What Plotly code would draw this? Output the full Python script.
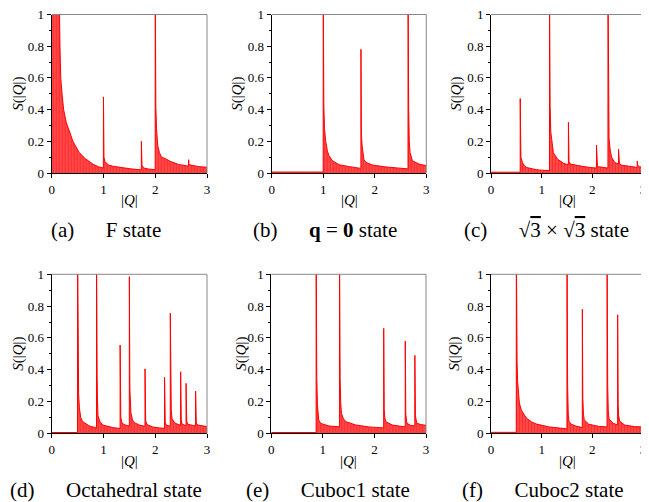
import plotly.graph_objects as go

FONT = "Liberation Serif"

# ---------------- data ----------------
# (a) F state
q_a = [0.0, 0.15, 0.16, 0.175, 0.2, 0.23, 0.28, 0.34, 0.41, 0.53, 0.65, 0.8, 0.9, 0.998,
       1.0, 1.004, 1.01, 1.03, 1.06, 1.1, 1.19, 1.35, 1.51, 1.65, 1.731,
       1.732, 1.736, 1.745, 1.79, 1.87, 1.999,
       2.0, 2.002, 2.006, 2.012, 2.025, 2.05, 2.08, 2.12, 2.2, 2.3, 2.45, 2.6, 2.644,
       2.645, 2.65, 2.68, 2.75, 2.85, 3.0]
s_a = [1.5, 1.05, 0.8, 0.6, 0.5, 0.4, 0.32, 0.26, 0.2, 0.13, 0.09, 0.055, 0.04, 0.031,
       0.48, 0.2, 0.1, 0.07, 0.059, 0.05, 0.042, 0.033, 0.027, 0.022, 0.02,
       0.2, 0.08, 0.045, 0.031, 0.025, 0.021,
       1.2, 1.0, 0.6, 0.42, 0.28, 0.17, 0.13, 0.1, 0.09, 0.072, 0.054, 0.045, 0.043,
       0.084, 0.06, 0.05, 0.044, 0.04, 0.036]

# (b) q = 0 state
q_b = [0.0, 0.999,
       1.0, 1.002, 1.005, 1.012, 1.025, 1.048, 1.08, 1.11, 1.18, 1.31, 1.51, 1.731,
       1.732, 1.735, 1.74, 1.755, 1.77, 1.79, 1.83, 1.96, 2.22, 2.45, 2.645,
       2.646, 2.648, 2.651, 2.658, 2.67, 2.684, 2.73, 2.86, 3.0]
s_b = [0.006, 0.006,
       1.2, 1.0, 0.62, 0.42, 0.28, 0.2, 0.14, 0.11, 0.077, 0.052, 0.04, 0.029,
       0.78, 0.4, 0.25, 0.17, 0.12, 0.085, 0.067, 0.05, 0.038, 0.031, 0.026,
       1.2, 1.0, 0.6, 0.4, 0.2, 0.13, 0.077, 0.056, 0.046]

# (c) sqrt3 x sqrt3 state
q_c = [0.0, 0.576,
       0.577, 0.581, 0.59, 0.62, 0.66, 0.7, 0.8, 0.89, 1.0, 1.154,
       1.155, 1.157, 1.16, 1.167, 1.18, 1.2, 1.23, 1.31, 1.44, 1.527,
       1.528, 1.532, 1.54, 1.57, 1.7, 1.8, 1.95, 2.081,
       2.082, 2.086, 2.1, 2.12, 2.2, 2.308,
       2.309, 2.311, 2.314, 2.32, 2.33, 2.35, 2.38, 2.44, 2.516,
       2.517, 2.521, 2.535, 2.57, 2.7, 2.886,
       2.887, 2.892, 2.93, 3.0]
s_c = [0.005, 0.005,
       0.47, 0.2, 0.1, 0.067, 0.045, 0.035, 0.026, 0.021, 0.018, 0.015,
       1.2, 1.0, 0.6, 0.42, 0.26, 0.19, 0.13, 0.088, 0.06, 0.052,
       0.32, 0.12, 0.07, 0.056, 0.046, 0.042, 0.035, 0.031,
       0.175, 0.07, 0.045, 0.04, 0.035, 0.031,
       1.2, 1.0, 0.6, 0.4, 0.22, 0.15, 0.1, 0.067, 0.056,
       0.15, 0.08, 0.058, 0.05, 0.042, 0.035,
       0.075, 0.05, 0.04, 0.035]

# (d) Octahedral state
q_d = [0.0, 0.499,
       0.5, 0.502, 0.505, 0.512, 0.52, 0.535, 0.56, 0.6, 0.73, 0.865,
       0.866, 0.868, 0.871, 0.878, 0.885, 0.895, 0.93, 0.985, 1.18, 1.321,
       1.322, 1.326, 1.335, 1.36, 1.42, 1.499,
       1.5, 1.503, 1.51, 1.53, 1.56, 1.6, 1.69, 1.802,
       1.803, 1.807, 1.815, 1.84, 1.95, 2.08, 2.179,
       2.18, 2.184, 2.193, 2.21, 2.29,
       2.291, 2.294, 2.3, 2.31, 2.325, 2.36, 2.4, 2.49,
       2.491, 2.495, 2.503, 2.52, 2.595,
       2.596, 2.6, 2.608, 2.63, 2.7, 2.779,
       2.78, 2.784, 2.793, 2.82, 2.9, 3.0]
s_d = [0.005, 0.005,
       1.2, 1.0, 0.6, 0.4, 0.25, 0.16, 0.1, 0.073, 0.046, 0.034,
       1.2, 1.0, 0.6, 0.35, 0.2, 0.11, 0.075, 0.052, 0.036, 0.03,
       0.555, 0.2, 0.1, 0.063, 0.052, 0.046,
       0.985, 0.5, 0.28, 0.13, 0.085, 0.067, 0.052, 0.044,
       0.405, 0.15, 0.08, 0.055, 0.04, 0.034, 0.031,
       0.352, 0.12, 0.07, 0.052, 0.044,
       0.755, 0.4, 0.22, 0.14, 0.094, 0.072, 0.061, 0.05,
       0.387, 0.14, 0.08, 0.057, 0.048,
       0.314, 0.12, 0.075, 0.057, 0.05, 0.046,
       0.266, 0.11, 0.065, 0.052, 0.046, 0.042]

# (e) Cuboc1 state
q_e = [0.0, 0.869,
       0.87, 0.872, 0.875, 0.882, 0.895, 0.92, 0.96, 1.0, 1.12, 1.322,
       1.323, 1.325, 1.328, 1.335, 1.345, 1.36, 1.4, 1.45, 1.64, 1.9, 2.179,
       2.18, 2.183, 2.19, 2.2, 2.22, 2.35, 2.597,
       2.598, 2.601, 2.608, 2.63, 2.7, 2.783,
       2.784, 2.787, 2.795, 2.82, 2.9, 3.0]
s_e = [0.005, 0.005,
       1.2, 1.0, 0.6, 0.35, 0.18, 0.084, 0.062, 0.057, 0.046, 0.041,
       1.2, 1.0, 0.6, 0.35, 0.2, 0.126, 0.09, 0.073, 0.052, 0.04, 0.034,
       0.66, 0.3, 0.15, 0.1, 0.073, 0.052, 0.04,
       0.58, 0.25, 0.12, 0.063, 0.05, 0.046,
       0.49, 0.22, 0.11, 0.063, 0.055, 0.05]

# (f) Cuboc2 state
q_f = [0.0, 0.499,
       0.5, 0.502, 0.506, 0.515, 0.525, 0.54, 0.56, 0.6, 0.7, 0.8, 0.9, 1.15, 1.3, 1.499,
       1.5, 1.502, 1.505, 1.512, 1.525, 1.54, 1.58, 1.67, 1.802,
       1.803, 1.806, 1.812, 1.825, 1.84, 1.93, 2.12, 2.29,
       2.291, 2.293, 2.296, 2.303, 2.315, 2.33, 2.41, 2.499,
       2.5, 2.503, 2.51, 2.52, 2.54, 2.64, 2.83, 3.0]
s_f = [0.006, 0.006,
       1.2, 1.0, 0.7, 0.45, 0.33, 0.25, 0.19, 0.145, 0.095, 0.072, 0.058, 0.04, 0.034, 0.028,
       1.2, 1.0, 0.6, 0.3, 0.12, 0.075, 0.058, 0.046, 0.036,
       0.78, 0.4, 0.22, 0.12, 0.084, 0.057, 0.044, 0.04,
       1.2, 1.0, 0.6, 0.3, 0.14, 0.09, 0.063, 0.052,
       0.745, 0.35, 0.18, 0.11, 0.075, 0.052, 0.042, 0.04]

captions = [
    "(a)\u2003\u2002F state",
    "(b)\u2003\u2002<b>q</b> = <b>0</b> state",
    "(c)\u2003\u2002\u221a<span style='text-decoration:overline'>3</span> \u00d7 \u221a<span style='text-decoration:overline'>3</span> state",
    "(d)\u2003\u2002Octahedral state",
    "(e)\u2003\u2002Cuboc1 state",
    "(f)\u2003\u2002Cuboc2 state",
]
x_ticks = [0, 1, 2, 3]
y_ticks = [0, 0.2, 0.4, 0.6, 0.8, 1]
x_title = "|<i>Q</i>|"
y_title = "<i>S</i>(|<i>Q</i>|)"

series = [(q_a, s_a), (q_b, s_b), (q_c, s_c), (q_d, s_d), (q_e, s_e), (q_f, s_f)]

# ---------------- layout (pixel geometry in window coordinates) ----------------
WIN_W, WIN_H = 649, 502
OFF = 8                      # page body margin
W, H = WIN_W - OFF, WIN_H - OFF


def px(x):
    return (x - OFF) / W


def py(y):
    return 1 - (y - OFF) / H


boxes = [(51.7, 207.0, 14.5, 173.0), (271.7, 426.3, 14.5, 173.0), (491.0, 643.0, 14.5, 173.0),
         (51.7, 207.0, 274.3, 433.3), (271.3, 426.0, 274.3, 433.3), (491.0, 643.0, 274.3, 433.3)]
ytitle_x = [19, 238, 457, 19, 242, 455]
caption_x = [106, 325, 546, 106, 328, 543]

fig = go.Figure()
layout = dict(width=W, height=H, margin=dict(l=0, r=0, t=0, b=0, autoexpand=False),
              paper_bgcolor="white", plot_bgcolor="white", showlegend=False, hovermode=False,
              font=dict(family=FONT, color="black"))
annotations = []
shapes = []

for i, ((q, s), (x0, x1, y0, y1)) in enumerate(zip(series, boxes)):
    n = "" if i == 0 else str(i + 1)
    xa, ya = "x" + n, "y" + n
    fig.add_trace(go.Scatter(
        x=q, y=s, xaxis=xa, yaxis=ya, mode="lines",
        line=dict(color="#ff0000", width=1),
        fill="tozeroy", fillcolor="rgba(255,40,40,0.85)",
        fillpattern=dict(shape="|", fgcolor="#ff0000", bgcolor="#ff5a5a", size=3, solidity=0.6),
        hoverinfo="skip"))
    layout["xaxis" + n] = dict(
        domain=[px(x0), px(x1)], anchor=ya, range=[0, 3], tickvals=x_ticks, automargin=False,
        ticklabeloverflow="allow",
        ticks="outside", ticklen=4, tickcolor="black", showline=True, linecolor="black",
        linewidth=1, showgrid=False, zeroline=False, fixedrange=True,
        tickfont=dict(family=FONT, size=13, color="black"))
    layout["yaxis" + n] = dict(
        domain=[py(y1), py(y0)], anchor=xa, range=[0, 1], tickvals=y_ticks, automargin=False,
        ticklabeloverflow="allow",
        ticks="outside", ticklen=4, tickcolor="black", showline=True, linecolor="black",
        linewidth=1, showgrid=False, zeroline=False, fixedrange=True,
        minor=dict(tickvals=[0.1, 0.3, 0.5, 0.7, 0.9], ticks="outside", ticklen=2, tickcolor="black"),
        tickfont=dict(family=FONT, size=13, color="black"))
    shapes.append(dict(type="line", xref=xa + " domain", yref=ya + " domain", x0=0, x1=1, y0=1, y1=1,
                       line=dict(color="#888888", width=1), layer="above"))
    shapes.append(dict(type="line", xref=xa + " domain", yref=ya + " domain", x0=1, x1=1, y0=0, y1=1,
                       line=dict(color="#888888", width=1), layer="above"))
    ymid = (y0 + y1) / 2
    annotations.append(dict(text=y_title, xref="paper", yref="paper", x=px(ytitle_x[i]), y=py(ymid),
                            textangle=-90, showarrow=False, xanchor="center", yanchor="middle",
                            font=dict(family=FONT, size=15, color="black")))
    xt_y = 200 if i < 3 else 461
    annotations.append(dict(text=x_title, xref="paper", yref="paper", x=px((x0 + x1) / 2), y=py(xt_y),
                            showarrow=False, xanchor="center", yanchor="middle",
                            font=dict(family=FONT, size=15, color="black")))
    cy = 230 if i < 3 else 490
    annotations.append(dict(text=captions[i], xref="paper", yref="paper", x=px(caption_x[i]), y=py(cy),
                            showarrow=False, xanchor="center", yanchor="middle",
                            font=dict(family=FONT, size=21, color="black")))

layout["annotations"] = annotations
layout["shapes"] = shapes
fig.update_layout(**layout)
fig.write_html("out.html")
